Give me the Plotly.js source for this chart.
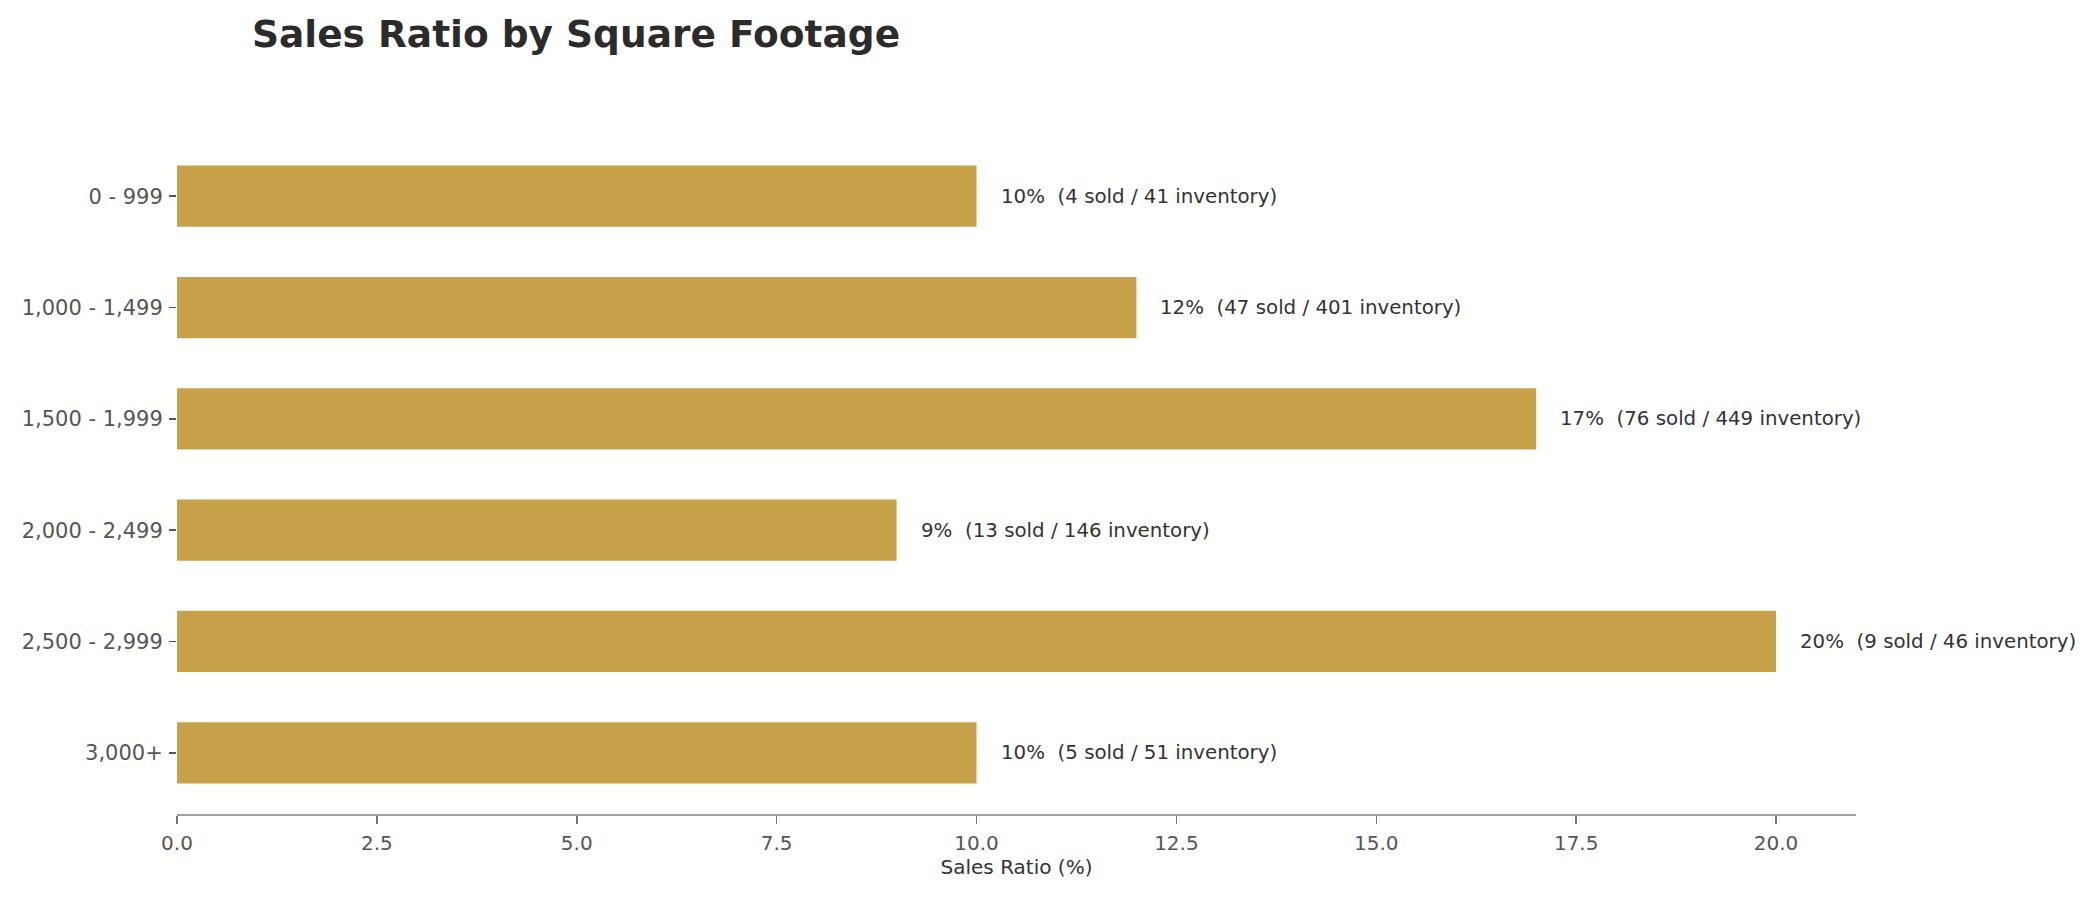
<!DOCTYPE html>
<html>
<head>
<meta charset="utf-8">
<script src="https://cdn.plot.ly/plotly-3.0.1.min.js"></script>
<style>
  html, body { margin: 0; padding: 0; background: #fff; }
  #chart { width: 2100px; height: 900px; }
</style>
</head>
<body>
<div id="chart"></div>
<script>
var sizeRanges = ['0 - 999', '1,000 - 1,499', '1,500 - 1,999', '2,000 - 2,499', '2,500 - 2,999', '3,000+'];
var salesRatio = [10, 12, 17, 9, 20, 10];
var soldCount = [4, 47, 76, 13, 9, 5];
var inventoryCount = [41, 401, 449, 146, 46, 51];
var xTicks = [0, 2.5, 5, 7.5, 10, 12.5, 15, 17.5, 20];

var font = 'DejaVu Sans, sans-serif';

var bars = {
  type: 'bar',
  orientation: 'h',
  x: salesRatio,
  y: sizeRanges,
  marker: { color: '#C8A24B' },
  hoverinfo: 'x+y'
};

// labels to the right of each bar
var notes = sizeRanges.map(function (cat, i) {
  return {
    x: salesRatio[i],
    y: cat,
    xref: 'x',
    yref: 'y',
    text: salesRatio[i] + '%\u00a0 (' + soldCount[i] + ' sold / ' + inventoryCount[i] + ' inventory)',
    showarrow: false,
    xanchor: 'left',
    yanchor: 'middle',
    xshift: 22,
    font: { family: font, size: 19.8, color: '#333333' }
  };
});

var layout = {
  width: 2100,
  height: 900,
  paper_bgcolor: '#ffffff',
  plot_bgcolor: '#ffffff',
  margin: { l: 177, r: 244, t: 135, b: 86 },
  bargap: 0.45,
  showlegend: false,
  font: { family: font, color: '#555555' },
  title: {
    text: '<b>Sales Ratio by Square Footage</b>',
    font: { family: font, size: 37.5, color: '#2b2b2b' },
    xref: 'container',
    yref: 'container',
    x: 252 / 2100,
    xanchor: 'left',
    y: 1 - 34 / 900,
    yanchor: 'middle'
  },
  xaxis: {
    range: [0, 21],
    tickvals: xTicks,
    ticktext: xTicks.map(function (v) { return v.toFixed(1); }),
    showgrid: false,
    zeroline: false,
    showline: true,
    linecolor: '#a0a0a0',
    linewidth: 2,
    ticks: 'outside',
    ticklen: 8,
    tickwidth: 1.5,
    tickcolor: '#777777',
    ticklabelstandoff: 2,
    tickfont: { family: font, size: 20, color: '#555555' },
    title: { text: 'Sales Ratio (%)', font: { family: font, size: 20, color: '#333333' }, standoff: 6 }
  },
  yaxis: {
    type: 'category',
    categoryorder: 'array',
    categoryarray: sizeRanges,
    range: [5.55, -0.55],
    showgrid: false,
    zeroline: false,
    showline: false,
    ticks: 'outside',
    ticklen: 7,
    tickwidth: 1.5,
    tickcolor: '#555555',
    ticklabelstandoff: 2,
    tickfont: { family: font, size: 21, color: '#555555' }
  },
  annotations: notes
};

Plotly.newPlot('chart', [bars], layout, { displayModeBar: false, staticPlot: true });
</script>
</body>
</html>
